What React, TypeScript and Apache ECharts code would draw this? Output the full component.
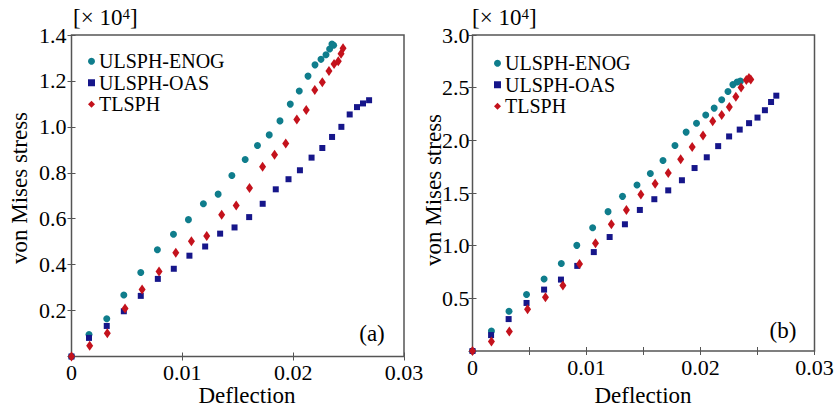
import React, { useEffect, useRef } from "react";
import * as echarts from "echarts";

// Panel (a): deflection vs von Mises stress [x 1e4]
const enogA: number[][] = [
  [0, 0], [0.00158, 0.096], [0.00318, 0.164], [0.00472, 0.268], [0.00625, 0.366], [0.00775, 0.465],
  [0.0092, 0.532], [0.01055, 0.596], [0.0119, 0.665], [0.01323, 0.707], [0.01447, 0.788],
  [0.01567, 0.858], [0.01678, 0.919], [0.01784, 0.965], [0.01881, 1.026], [0.01974, 1.099],
  [0.02055, 1.156], [0.02134, 1.221], [0.02197, 1.27], [0.02251, 1.294], [0.02296, 1.314],
  [0.02329, 1.339], [0.0235, 1.361], [0.02365, 1.355],
];
const oasA: number[][] = [
  [0, 0], [0.00158, 0.081], [0.00318, 0.133], [0.00472, 0.197], [0.00625, 0.264], [0.00779, 0.338],
  [0.00923, 0.382], [0.01064, 0.439], [0.01206, 0.479], [0.01341, 0.535], [0.01471, 0.562],
  [0.01603, 0.607], [0.01725, 0.665], [0.01843, 0.728], [0.01958, 0.772], [0.02061, 0.811],
  [0.02166, 0.866], [0.02263, 0.908], [0.02351, 0.956], [0.02435, 1.0], [0.0251, 1.054],
  [0.02576, 1.086], [0.0263, 1.102], [0.02685, 1.116],
];
const tlsphA: number[][] = [
  [0, 0], [0.00164, 0.047], [0.00323, 0.101], [0.00483, 0.209], [0.00637, 0.292], [0.0079, 0.37],
  [0.00941, 0.452], [0.01082, 0.502], [0.0122, 0.525], [0.01355, 0.617], [0.01486, 0.658],
  [0.01606, 0.734], [0.01724, 0.826], [0.01832, 0.878], [0.01933, 0.927], [0.02033, 1.032],
  [0.02118, 1.073], [0.02195, 1.16], [0.02263, 1.194], [0.02323, 1.243], [0.02369, 1.274],
  [0.02407, 1.286], [0.02432, 1.318], [0.0245, 1.342],
];

// Panel (b)
const enogB: number[][] = [
  [0, 0], [0.00166, 0.189], [0.0032, 0.377], [0.00474, 0.536], [0.00628, 0.684], [0.00779, 0.831],
  [0.00915, 1.003], [0.01054, 1.17], [0.01189, 1.323], [0.01316, 1.468], [0.01443, 1.576],
  [0.0156, 1.685], [0.01671, 1.809], [0.01776, 1.951], [0.01874, 2.078], [0.01965, 2.162],
  [0.02046, 2.241], [0.0212, 2.306], [0.02186, 2.386], [0.02241, 2.464], [0.02284, 2.529],
  [0.02321, 2.553], [0.0235, 2.562],
];
const oasB: number[][] = [
  [0, 0], [0.00163, 0.151], [0.00317, 0.303], [0.00474, 0.456], [0.00628, 0.583], [0.00776, 0.678],
  [0.00919, 0.808], [0.01064, 0.939], [0.01203, 1.082], [0.01337, 1.203], [0.01468, 1.339],
  [0.01595, 1.441], [0.01717, 1.525], [0.01837, 1.621], [0.01948, 1.737], [0.02055, 1.839],
  [0.02155, 1.945], [0.02251, 2.037], [0.02344, 2.102], [0.02426, 2.163], [0.025, 2.216],
  [0.02565, 2.286], [0.02619, 2.364], [0.02665, 2.424],
];
const tlsphB: number[][] = [
  [0, 0], [0.00166, 0.091], [0.00323, 0.186], [0.00483, 0.396], [0.0064, 0.51], [0.00793, 0.622],
  [0.00939, 0.827], [0.01079, 1.022], [0.01218, 1.203], [0.0135, 1.339], [0.01477, 1.486],
  [0.01602, 1.589], [0.01717, 1.69], [0.01826, 1.82], [0.01927, 1.937], [0.02022, 2.047],
  [0.02107, 2.181], [0.02186, 2.241], [0.02253, 2.316], [0.0231, 2.413], [0.02356, 2.502],
  [0.02402, 2.572], [0.02425, 2.591], [0.02441, 2.577],
];

const seriesNames = ["ULSPH-ENOG", "ULSPH-OAS", "TLSPH"];
const panelTags = ["(a)", "(b)"];
const xLabel = "Deflection";
const yLabel = "von Mises stress";

const FONT = "Liberation Serif";
const C_ENOG = "#0f7d8c";
const C_OAS = "#16168a";
const C_TL = "#c4121c";
const FRAME = "#555555";

export default function App() {
  const ref = useRef<HTMLDivElement>(null);
  useEffect(() => {
    if (!ref.current) return;
    const chart = echarts.init(ref.current, null, { renderer: "svg" });

    const xFmtA = (v: number) => (Math.abs(v) < 1e-9 ? "0" : v.toFixed(2));
    const xFmtB = (v: number) => {
      const k = Math.round(v * 1000);
      if (k % 10 !== 0) return "";
      return k === 0 ? "0" : v.toFixed(2);
    };
    const yFmt = (v: number) => (Math.abs(v) < 1e-9 ? "" : v.toFixed(1));

    const tick = { show: true, inside: true, length: 4, lineStyle: { color: FRAME, width: 1 } };
    const lbl = { color: "#000", fontFamily: FONT, fontSize: 22 };

    const grids = [
      { left: 71.5, top: 35, width: 332.5, height: 321.5 },
      { left: 472.5, top: 35, width: 342, height: 316 },
    ].map((g) => ({ ...g, show: true, borderColor: FRAME, borderWidth: 1.5, backgroundColor: "transparent" }));

    const xCfg = [
      { interval: 0.01, fmt: xFmtA },
      { interval: 0.005, fmt: xFmtB },
    ];
    const yCfg = [
      { max: 1.4, interval: 0.2 },
      { max: 3.0, interval: 0.5 },
    ];

    const xAxis: any[] = [];
    const yAxis: any[] = [];
    [0, 1].forEach((i) => {
      xAxis.push({
        type: "value", gridIndex: i, min: 0, max: 0.03, interval: xCfg[i].interval,
        position: "bottom", axisLine: { show: false }, axisTick: tick, splitLine: { show: false },
        axisLabel: { ...lbl, margin: 5, formatter: xCfg[i].fmt, showMaxLabel: true, showMinLabel: true },
      });
      xAxis.push({
        type: "value", gridIndex: i, min: 0, max: 0.03, interval: xCfg[i].interval,
        position: "top", axisLine: { show: false }, axisTick: tick, splitLine: { show: false },
        axisLabel: { show: false },
      });
      yAxis.push({
        type: "value", gridIndex: i, min: 0, max: yCfg[i].max, interval: yCfg[i].interval,
        position: "left", axisLine: { show: false }, axisTick: tick, splitLine: { show: false },
        axisLabel: { ...lbl, margin: i === 0 ? 5 : 3, formatter: yFmt },
      });
      yAxis.push({
        type: "value", gridIndex: i, min: 0, max: yCfg[i].max, interval: yCfg[i].interval,
        position: "right", axisLine: { show: false }, axisTick: tick, splitLine: { show: false },
        axisLabel: { show: false },
      });
    });

    const mk = (name: string, data: number[][], panel: number, symbol: string, size: any, color: string) => ({
      type: "scatter", name, data, xAxisIndex: panel * 2, yAxisIndex: panel * 2,
      symbol, symbolSize: size, itemStyle: { color, opacity: 1 }, emphasis: { disabled: true },
    });

    const series = [
      mk(seriesNames[0], enogA, 0, "circle", 7, C_ENOG),
      mk(seriesNames[1], oasA, 0, "rect", 6, C_OAS),
      mk(seriesNames[2], tlsphA, 0, "diamond", [7, 10], C_TL),
      mk(seriesNames[0], enogB, 1, "circle", 7, C_ENOG),
      mk(seriesNames[1], oasB, 1, "rect", 6, C_OAS),
      mk(seriesNames[2], tlsphB, 1, "diamond", [7, 10], C_TL),
    ];

    const legendData = [
      { name: seriesNames[0], icon: "circle" },
      { name: seriesNames[1], icon: "rect" },
      { name: seriesNames[2], icon: "diamond" },
    ];
    const legendBase = {
      orient: "vertical", itemWidth: 7, itemHeight: 7, itemGap: 1, selectedMode: false,
      data: legendData,
      textStyle: { fontFamily: FONT, fontSize: 20, color: "#000", lineHeight: 20.5, padding: [0, 0, 0, -1] },
      padding: 0,
    };

    const sci = (x: number) => ({
      type: "text", left: x, top: 6, silent: true,
      style: {
        text: "[× 10{s|4}]",
        fontFamily: FONT, fontSize: 23, fill: "#000",
        rich: { s: { fontFamily: FONT, fontSize: 15, verticalAlign: "top", lineHeight: 15, padding: [0, 0, 8, 0] } },
      },
    });

    const yName = (x: number, y: number) => ({
      type: "text", x, y, rotation: Math.PI / 2, silent: true,
      style: { text: yLabel, fontFamily: FONT, fontSize: 23, fill: "#000", align: "center", verticalAlign: "middle" },
    });
    const xName = (x: number, y: number) => ({
      type: "text", x, y, silent: true,
      style: { text: xLabel, fontFamily: FONT, fontSize: 23, fill: "#000", align: "center", verticalAlign: "middle" },
    });
    const tag = (t: string, x: number, y: number) => ({
      type: "text", x, y, silent: true,
      style: { text: t, fontFamily: FONT, fontSize: 23, fill: "#000", align: "center", verticalAlign: "middle" },
    });

    chart.setOption({
      animation: false,
      backgroundColor: "#fff",
      grid: grids,
      xAxis,
      yAxis,
      series,
      legend: [
        { ...legendBase, left: 88, top: 51 },
        { ...legendBase, left: 494, top: 53 },
      ],
      graphic: [
        sci(73),
        sci(472),
        yName(19, 188),
        yName(433, 190),
        xName(247, 395),
        xName(643, 395),
        tag(panelTags[0], 372, 333),
        tag(panelTags[1], 783, 330),
      ],
    });

    return () => chart.dispose();
  }, []);

  return <div ref={ref} style={{ position: "absolute", left: 0, top: 0, width: 838, height: 410 }} />;
}
